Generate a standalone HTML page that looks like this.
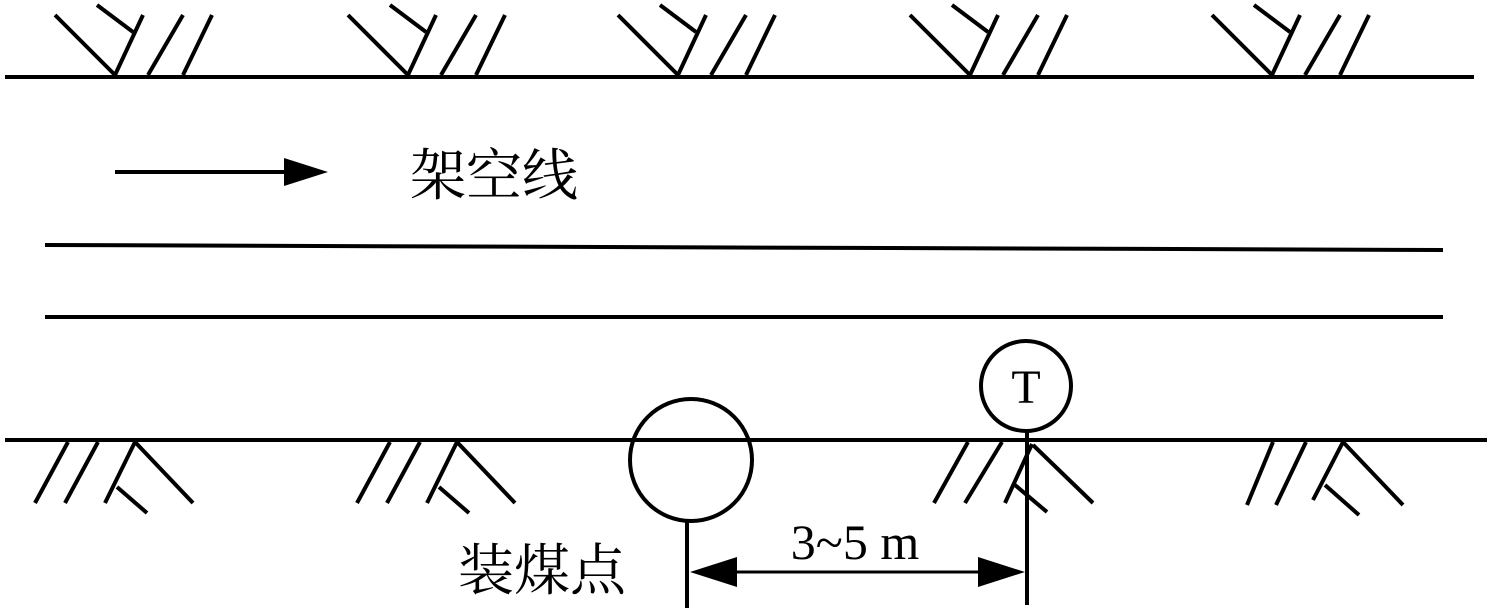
<!DOCTYPE html>
<html><head><meta charset="utf-8"><style>html,body{margin:0;padding:0;background:#fff}svg{display:block}</style></head>
<body>
<svg width="1489" height="611" viewBox="0 0 1489 611" xmlns="http://www.w3.org/2000/svg">
<g stroke="#000" stroke-width="4" fill="none">
<line x1="5" y1="77" x2="1474" y2="77"/>
<line x1="5" y1="440" x2="1487" y2="440"/>
<line x1="45" y1="245" x2="1443" y2="250"/>
<line x1="45" y1="317" x2="1443" y2="317"/>
<line x1="115" y1="172" x2="290" y2="172"/>
<line x1="687" y1="521" x2="687" y2="608"/>
<line x1="1027" y1="430" x2="1027" y2="605"/>
<line x1="700" y1="572" x2="1015" y2="572" stroke-width="3"/>
<circle cx="691" cy="460" r="61"/>
<circle cx="1026" cy="386" r="45"/>
</g>
<g fill="#000">
<polygon points="328,172 284,158 284,186"/>
<polygon points="690,572 737,557 737,587"/>
<polygon points="1025,572 978,557 978,587"/>
</g>
<g stroke="#000" stroke-width="4">
<g transform="translate(115,0)"><line x1="-60" y1="15" x2="0" y2="75"/><line x1="-18" y1="5" x2="18" y2="32"/><line x1="28" y1="15" x2="0" y2="75"/><line x1="68" y1="15" x2="33" y2="75"/><line x1="97" y1="15" x2="68" y2="75"/></g>
<g transform="translate(408,0)"><line x1="-60" y1="15" x2="0" y2="75"/><line x1="-18" y1="5" x2="18" y2="32"/><line x1="28" y1="15" x2="0" y2="75"/><line x1="68" y1="15" x2="33" y2="75"/><line x1="97" y1="15" x2="68" y2="75"/></g>
<g transform="translate(678,0)"><line x1="-60" y1="15" x2="0" y2="75"/><line x1="-18" y1="5" x2="18" y2="32"/><line x1="28" y1="15" x2="0" y2="75"/><line x1="68" y1="15" x2="33" y2="75"/><line x1="97" y1="15" x2="68" y2="75"/></g>
<g transform="translate(970,0)"><line x1="-60" y1="15" x2="0" y2="75"/><line x1="-18" y1="5" x2="18" y2="32"/><line x1="28" y1="15" x2="0" y2="75"/><line x1="68" y1="15" x2="33" y2="75"/><line x1="97" y1="15" x2="68" y2="75"/></g>
<g transform="translate(1272,0)"><line x1="-60" y1="15" x2="0" y2="75"/><line x1="-18" y1="5" x2="18" y2="32"/><line x1="28" y1="15" x2="0" y2="75"/><line x1="68" y1="15" x2="33" y2="75"/><line x1="97" y1="15" x2="68" y2="75"/></g>
<g transform="translate(135,0)"><line x1="-67" y1="442" x2="-100" y2="503"/><line x1="-37" y1="442" x2="-70" y2="503"/><line x1="0" y1="442" x2="-30" y2="503"/><line x1="-18" y1="487" x2="12" y2="513"/><line x1="0" y1="442" x2="58" y2="503"/></g>
<g transform="translate(457,0)"><line x1="-67" y1="442" x2="-100" y2="503"/><line x1="-37" y1="442" x2="-70" y2="503"/><line x1="0" y1="442" x2="-30" y2="503"/><line x1="-18" y1="487" x2="12" y2="513"/><line x1="0" y1="442" x2="58" y2="503"/></g>
<g transform="translate(1343,0)"><line x1="-70" y1="442" x2="-96" y2="505"/><line x1="-37" y1="442" x2="-67" y2="505"/><line x1="0" y1="442" x2="-30" y2="500"/><line x1="-18" y1="485" x2="16" y2="515"/><line x1="0" y1="442" x2="60" y2="505"/></g>
<g><line x1="968" y1="442" x2="934" y2="503"/><line x1="1002" y1="442" x2="965" y2="503"/><line x1="1032" y1="444" x2="1005" y2="503"/><line x1="1015" y1="485" x2="1047" y2="512"/><line x1="1033" y1="445" x2="1093" y2="503"/></g>
</g>
<g font-family="Liberation Serif, 'Noto Serif CJK SC', serif" fill="#000">
<text x="410" y="195" font-size="56" font-family="'Liberation Serif', 'Noto Serif CJK SC', serif">架空线</text>
<text x="458" y="590" font-size="56" font-family="'Liberation Serif', 'Noto Serif CJK SC', serif">装煤点</text>
<text x="855" y="559" font-size="50" text-anchor="middle">3~5 m</text>
<text x="1026" y="403" font-size="48" text-anchor="middle">T</text>
</g>
</svg>
</body></html>
